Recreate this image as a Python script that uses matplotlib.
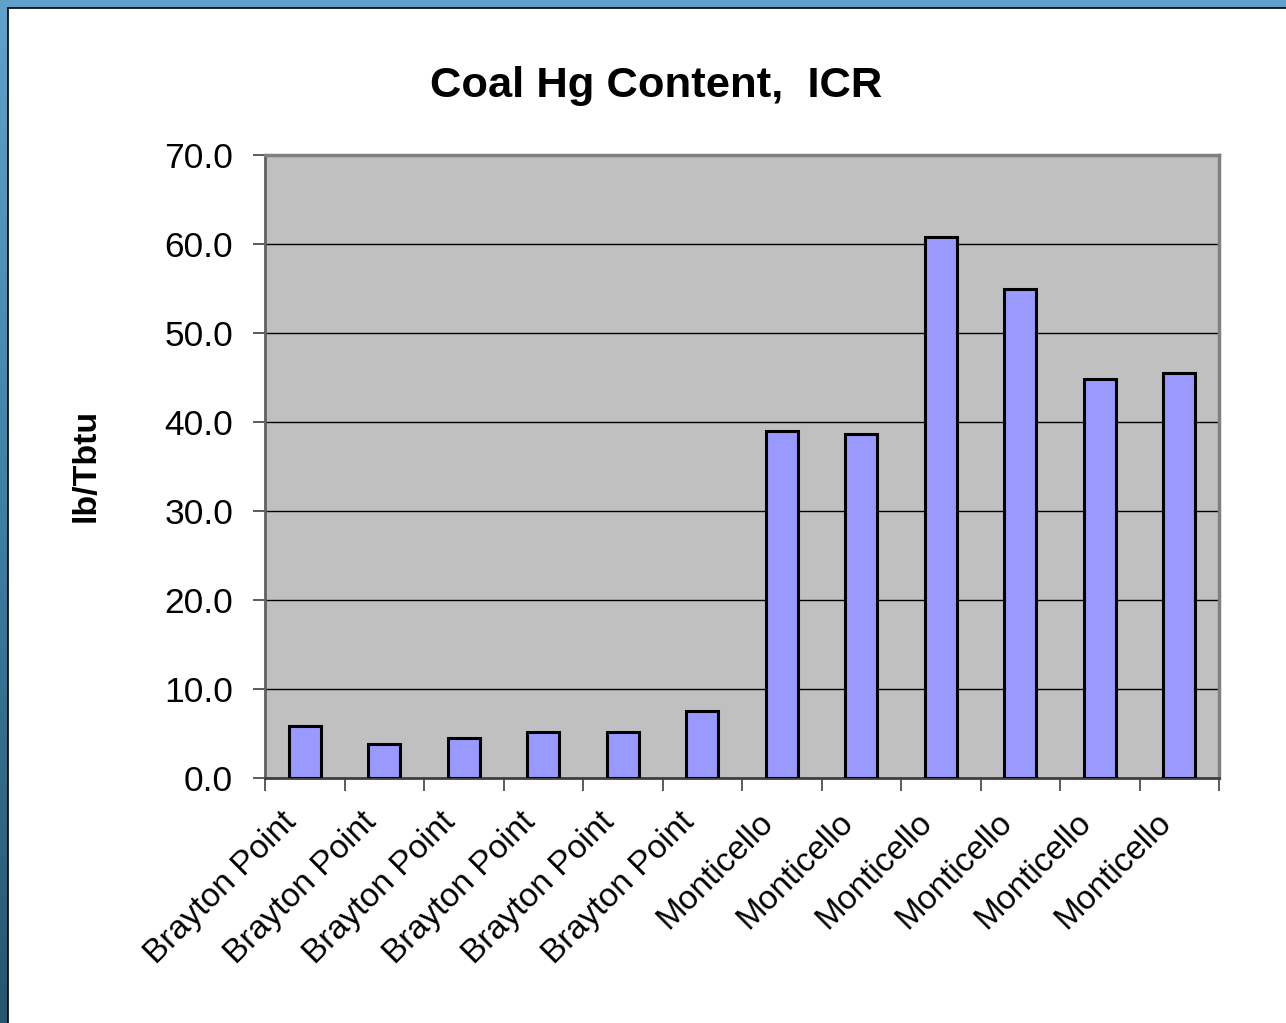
import numpy as np
import matplotlib.pyplot as plt
from matplotlib.patches import Rectangle
from matplotlib.colors import LinearSegmentedColormap
from matplotlib.transforms import ScaledTranslation

# Data
plants = ["Brayton Point"] * 6 + ["Monticello"] * 6
hg_content = [5.8, 3.8, 4.5, 5.2, 5.2, 7.5, 39.0, 38.7, 60.8, 54.9, 44.8, 45.5]
y_ticks = [0, 10, 20, 30, 40, 50, 60, 70]

W, H = 1286, 1023
fig = plt.figure(figsize=(W / 100, H / 100), dpi=100)
plt.rcParams['font.family'] = ['Liberation Sans', 'DejaVu Sans']

# Blue slide background with a white panel
bg = fig.add_axes([0, 0, 1, 1], zorder=-10)
grad = np.linspace(0, 1, 256).reshape(-1, 1)
cmap = LinearSegmentedColormap.from_list("slide", ["#5fa3cc", "#3f7fa6", "#26566f"])
bg.imshow(grad, aspect='auto', cmap=cmap, extent=[0, W, H, 0])
bg.add_patch(Rectangle((8, 8), W, H, facecolor='white', edgecolor='black', linewidth=1.2))
bg.set_xlim(0, W)
bg.set_ylim(H, 0)
bg.axis('off')

# Plot area
left, right, top, bottom = 265, 1219, 155, 778
ax = fig.add_axes([left / W, 1 - bottom / H, (right - left) / W, (bottom - top) / H])
ax.set_facecolor('#c0c0c0')

x = np.arange(len(hg_content))
ax.bar(x, hg_content, width=0.4, color='#9999ff', edgecolor='black', linewidth=2.2, zorder=3)

ax.set_xlim(-0.5, len(hg_content) - 0.5)
ax.set_ylim(0, 70)
ax.set_yticks(y_ticks)
ax.set_yticklabels([f"{v:.1f}" for v in y_ticks], fontsize=25.5)
ax.yaxis.grid(True, color='black', linewidth=1.0, zorder=1)
ax.set_axisbelow(True)
ax.tick_params(axis='y', length=9, width=1.2, color='#404040', pad=14)

# Category labels at centers, tick marks at category boundaries
ax.set_xticks(x)
ax.set_xticklabels(plants, fontsize=24, rotation=45, ha='right', va='top',
                   rotation_mode='anchor')
ax.tick_params(axis='x', which='major', length=0, pad=22)
shift = ScaledTranslation(-0.24, 0.02, fig.dpi_scale_trans)
for lbl in ax.get_xticklabels():
    lbl.set_transform(lbl.get_transform() + shift)
ax.set_xticks(np.arange(-0.5, len(hg_content)), minor=True)
ax.tick_params(axis='x', which='minor', length=9, width=1.2, color='#404040')

for side in ('top', 'right'):
    ax.spines[side].set_color('#808080')
    ax.spines[side].set_linewidth(2.5)
ax.spines['left'].set_color('#606060')
ax.spines['left'].set_linewidth(2)
ax.spines['bottom'].set_color('#404040')
ax.spines['bottom'].set_linewidth(2)

fig.text(86 / W, 1 - 465 / H, "lb/Tbtu", rotation=90, fontsize=24.5,
         fontweight='bold', ha='center', va='center')
fig.text(656 / W, 1 - 97 / H, "Coal Hg Content,  ICR", fontsize=31.3,
         fontweight='bold', ha='center', va='baseline')

fig.savefig("out.png", dpi=100)
